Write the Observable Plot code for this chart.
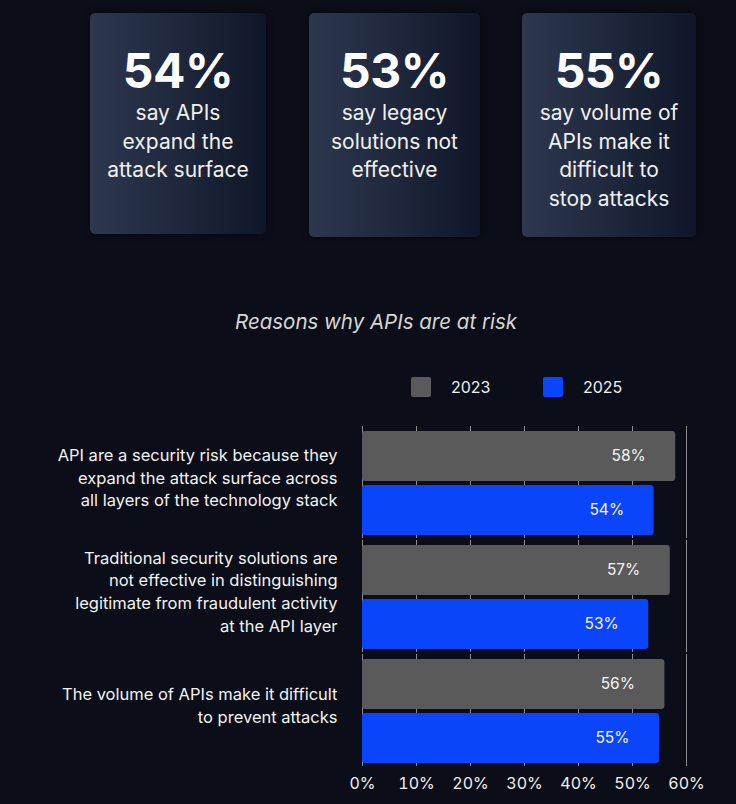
<!DOCTYPE html>
<html>
<head>
<meta charset="utf-8">
<script src="https://cdn.jsdelivr.net/npm/d3@7"></script>
<script src="https://cdn.jsdelivr.net/npm/@observablehq/plot@0.6"></script>
<style>
  html, body { margin: 0; padding: 0; background: #0b0e18; }
  #page { position: relative; width: 736px; height: 804px; overflow: hidden; font-family: Inter, "DejaVu Sans", sans-serif; color: #f2f2f2; }
  .card { position: absolute; top: 13px; border-radius: 5px;
    background: linear-gradient(90deg, #2d374e 0%, #1d263a 55%, #0f1628 100%);
    box-shadow: 0 0 6px rgba(0,0,0,0.5); text-align: center; }
  .card .num { position: absolute; left: 0; right: 0; top: 33px; font-size: 48px; line-height: 50px; font-weight: 700; color: #fff; letter-spacing: -0.5px; }
  .card .sub { position: absolute; left: 0; right: 0; top: 86px; font-size: 21px; line-height: 28.5px; color: #f0f0f0; }
  #title { position: absolute; left: 0; width: 752px; top: 309px; text-align: center; font-style: italic; font-size: 20.5px; color: #d6d6d6; }
  .sw { position: absolute; top: 377px; width: 20px; height: 20px; border-radius: 2px; }
  .lg { position: absolute; top: 377px; line-height: 20px; font-size: 16px; color: #eee; }
  #chart { position: absolute; left: 0; top: 415px; }
</style>
</head>
<body>
<div id="page"></div>
<script>
// Headline statistics shown in the three cards
const cardValues = [54, 53, 55];
const cardTexts = [
  ["say APIs", "expand the", "attack surface"],
  ["say legacy", "solutions not", "effective"],
  ["say volume of", "APIs make it", "difficult to", "stop attacks"]
];

// Survey reasons (labels broken onto lines as printed)
const categories = [
  "API are a security risk because they\nexpand the attack surface across\nall layers of the technology stack",
  "Traditional security solutions are\nnot effective in distinguishing\nlegitimate from fraudulent activity\nat the API layer",
  "The volume of APIs make it difficult\nto prevent attacks"
];
const years = ["2023", "2025"];
const values2023 = [58, 57, 56];
const values2025 = [54, 53, 55];
const xTicks = [0, 10, 20, 30, 40, 50, 60];
const yearColors = ["#5a5a5a", "#0a45fb"];

const page = document.getElementById("page");

// Cards
const cardBoxes = [
  {left: 90, width: 176, height: 221},
  {left: 309, width: 171, height: 224},
  {left: 522, width: 174, height: 224}
];
cardValues.forEach((v, i) => {
  const c = document.createElement("div");
  c.className = "card";
  const b = cardBoxes[i];
  c.style.left = b.left + "px";
  c.style.width = b.width + "px";
  c.style.height = b.height + "px";
  const n = document.createElement("div");
  n.className = "num";
  n.textContent = v + "%";
  const s = document.createElement("div");
  s.className = "sub";
  s.innerHTML = cardTexts[i].join("<br>");
  c.append(n, s);
  page.append(c);
});

// Title
const title = document.createElement("div");
title.id = "title";
title.textContent = "Reasons why APIs are at risk";
page.append(title);

// Legend
const legendPos = [{sw: 411, tx: 451}, {sw: 543, tx: 583}];
years.forEach((y, i) => {
  const sw = document.createElement("div");
  sw.className = "sw";
  sw.style.left = legendPos[i].sw + "px";
  sw.style.background = yearColors[i];
  const t = document.createElement("div");
  t.className = "lg";
  t.style.left = legendPos[i].tx + "px";
  t.textContent = y;
  page.append(sw, t);
});

// Bar table
const rows = categories.flatMap((c, i) => [
  {category: c, year: years[0], value: values2023[i]},
  {category: c, year: years[1], value: values2025[i]}
]);

const chart = Plot.plot({
  width: 736,
  height: 389,
  marginLeft: 362,
  marginRight: 50,
  marginTop: 15,
  marginBottom: 39,
  style: {background: "transparent", color: "#f0f0f0", fontFamily: "Inter, sans-serif", fontSize: "16px", overflow: "visible"},
  x: {domain: [0, 60], ticks: xTicks, tickFormat: d => d + "%", tickSize: 0, tickPadding: 14, label: null},
  y: {domain: years, axis: null, paddingInner: 0.075, paddingOuter: 0},
  fy: {domain: categories, axis: null, paddingInner: 0.085, paddingOuter: 0, label: null},
  color: {domain: years, range: yearColors},
  marks: [
    Plot.ruleX(xTicks, {x: d => d, stroke: "#8c8c8c", strokeWidth: 1, insetTop: -5, insetBottom: -3}),
    Plot.barX(rows, {x: "value", y: "year", fy: "category", fill: "year", rx: 3}),
    Plot.text(rows, {x: "value", y: "year", fy: "category", text: d => d.value + "%", dx: -30, textAnchor: "end", fill: "#f4f4f4", fontSize: 15.5}),
    Plot.text(categories, {fy: d => d, text: d => d, frameAnchor: "left", dx: -25, dy: -7, textAnchor: "end", lineHeight: 1.37, fontSize: 16.5, fill: "#f2f2f2"})
  ]
});
const holder = document.createElement("div");
holder.id = "chart";
holder.append(chart);
page.append(holder);
</script>
</body>
</html>
